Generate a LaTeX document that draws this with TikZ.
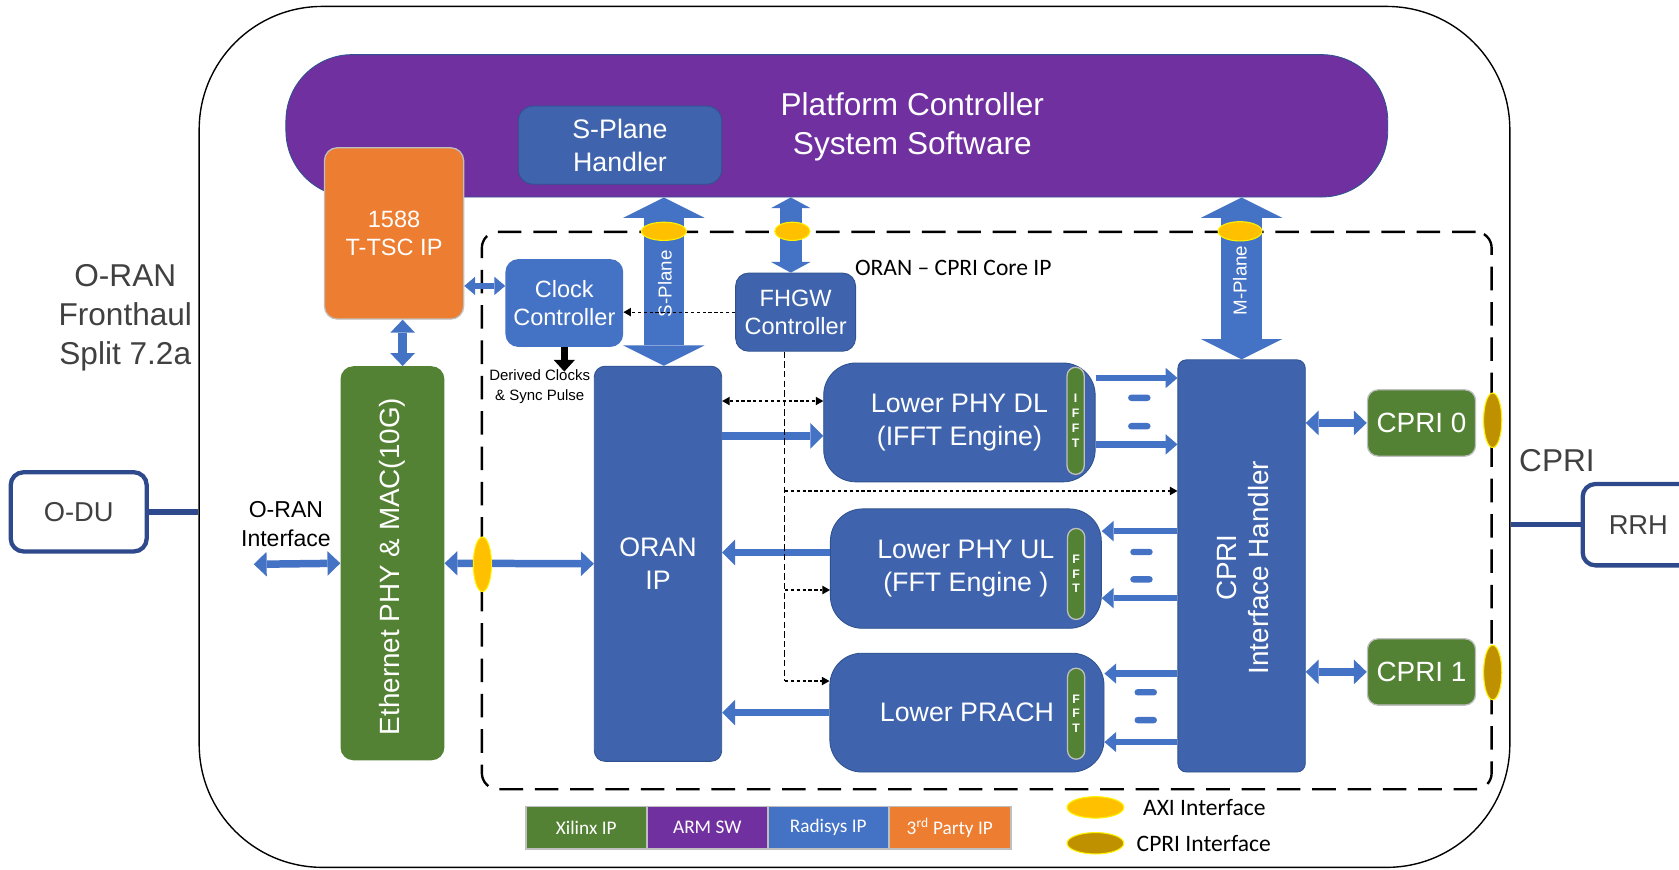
\documentclass[tikz,border=0pt]{standalone}
\usepackage{fontspec}
\setmainfont{Liberation Sans}
\newfontfamily\calibri{Carlito}
\usetikzlibrary{arrows.meta,shapes.geometric}

\definecolor{armpurple}{HTML}{7030A0}
\definecolor{xilgreen}{HTML}{548235}
\definecolor{radblue}{HTML}{4472C4}
\definecolor{coreblue}{HTML}{3F64AD}
\definecolor{coreedge}{HTML}{2F528F}
\definecolor{partyorange}{HTML}{ED7D31}
\definecolor{axiyellow}{HTML}{FFC000}
\definecolor{cprigold}{HTML}{BF9000}
\definecolor{navyline}{HTML}{2F4A8C}
\definecolor{softgray}{HTML}{BFBFBF}
\definecolor{txtgray}{HTML}{404040}

\begin{document}
\begin{tikzpicture}[x=1pt,y=-1pt,
    f14/.style={font=\fontsize{14}{18}\selectfont},
    f21/.style={font=\fontsize{21.5}{27}\selectfont},
    f22/.style={font=\fontsize{22}{26.5}\selectfont},
    f24/.style={font=\fontsize{25}{31}\selectfont},
    f26/.style={font=\fontsize{26}{30}\selectfont},
    f28/.style={font=\fontsize{29.5}{36.5}\selectfont},
    box/.style={inner sep=0pt, align=center, text=white, rounded corners=12pt},
    coreblk/.style={box, fill=coreblue, draw=coreedge, line width=0.8pt},
    endbox/.style={draw=navyline, line width=4pt, rounded corners=12pt, font=\fontsize{25.5}{30}\selectfont, text=txtgray, inner sep=0pt},
    link/.style={draw=navyline, line width=5pt},
    fftbar/.style={fill=xilgreen, draw=softgray, line width=1.2pt, rounded corners=8pt, minimum width=16pt,
      inner sep=0pt, align=center, text=white, font=\bfseries\fontsize{11.5}{13.8}\selectfont},
    tick/.style={fill=radblue, rounded corners=3pt, minimum width=21pt, minimum height=6pt, inner sep=0pt},
    axi/.style={ellipse, fill=axiyellow, draw=yellow, line width=1pt, inner sep=0pt},
    cprilink/.style={ellipse, fill=cprigold, draw=yellow, line width=1pt, inner sep=0pt},
    legbox/.style={fill=#1, draw=softgray, line width=1.5pt, minimum width=113pt, minimum height=39.5pt,
      inner sep=0pt, text=white, font=\calibri\fontsize{18}{21}\selectfont},
    bigarr/.style={draw=radblue, line width=38pt,
      arrows={Triangle[width=76pt,length=19pt,line width=0pt]-Triangle[width=76pt,length=19pt,line width=0pt]}},
    midarr/.style={draw=radblue, line width=21pt,
      arrows={Triangle[width=37pt,length=10pt,line width=0pt]-Triangle[width=37pt,length=10pt,line width=0pt]}},
    medarr/.style={draw=radblue, line width=7pt,
      arrows={Triangle[width=23pt,length=12pt,line width=0pt]-Triangle[width=23pt,length=12pt,line width=0pt]}},
    onearr/.style={draw=radblue, line width=7pt, arrows={-Triangle[width=24pt,length=12pt,line width=0pt]}},
    lanearr/.style={draw=radblue, line width=6pt, arrows={-Triangle[width=19pt,length=11pt,line width=0pt]}},
    tinyarr/.style={draw=radblue, line width=6pt,
      arrows={Triangle[width=17pt,length=10pt,line width=0pt]-Triangle[width=17pt,length=10pt,line width=0pt]}},
    blkarr/.style={draw=black, line width=6pt, arrows={-Triangle[width=20pt,length=11pt,line width=0pt]}},
    ctrl/.style={draw=black, line width=1.1pt, dash pattern=on 3pt off 2.5pt,
      arrows={-Triangle[width=8pt,length=7pt,line width=0pt]}},
    ctrlboth/.style={ctrl, arrows={Triangle[width=8pt,length=7pt,line width=0pt]-Triangle[width=8pt,length=7pt,line width=0pt]}},
    fhgwline/.style={draw=black, line width=1pt, dash pattern=on 6pt off 3pt}
  ]
\useasboundingbox (0,0) rectangle (1568,812);

% Board outline, O-DU and RRH
\node[draw=black, line width=1.3pt, rounded corners=115pt, minimum width=1224pt, minimum height=804pt, inner sep=0pt] (board) at (798,408) {};
\node[endbox, minimum width=127pt, minimum height=74pt] (odu) at (73.5,478) {O-DU};
\node[endbox, minimum width=104pt, minimum height=76pt] (rrh) at (1530,490) {RRH};
\draw[link] (odu.east) -- (odu.east -| board.west);
\draw[link] (board.east |- rrh.west) -- (rrh.west);

% Outside labels
\node[f28, text=txtgray, align=center] (fronthaul) at (117,297) {O-RAN\\Fronthaul\\Split 7.2a};
\node[f28, text=txtgray] (cprilbl) at (1454,430) {CPRI};

% Platform controller band
\node[fill=armpurple, draw=coreedge, line width=0.8pt, rounded corners=62pt, minimum width=1029pt, minimum height=133pt, inner sep=0pt] (band) at (781.5,117.5) {};
\node[f28, text=white, align=center] (pcss) at (852,118.5) {Platform Controller\\System Software};
\node[coreblk, f24, minimum width=190pt, minimum height=73pt, rounded corners=14pt] (shdl) at (579,135.5) {S-Plane\\Handler};

% 1588 block
\node[box, fill=partyorange, draw=softgray, line width=1.2pt, f22, minimum width=130pt, minimum height=160pt] (tsc) at (368,218) {1588\\T-TSC IP};

% ORAN - CPRI core
\node[draw=black, line width=2.2pt, dash pattern=on 22pt off 11pt, rounded corners=15pt, minimum width=943pt, minimum height=520.5pt, inner sep=0pt] (core) at (921.5,476.75) {};
\node[anchor=west, font=\calibri\fontsize{22}{26}\selectfont] (corelbl) at (795,250) {ORAN – CPRI Core IP};

% Ethernet block
\node[box, fill=xilgreen, minimum width=97pt, minimum height=368pt] (eth) at (366.5,526) {};
\node[f26, text=white, rotate=90] (ethlbl) at (366,529) {Ethernet PHY \& MAC(10G)};

% Controllers
\node[box, fill=radblue, f22, minimum width=110pt, minimum height=82pt] (clk) at (527,283) {Clock\\Controller};
\node[coreblk, f22, minimum width=112pt, minimum height=73pt] (fhgw) at (743,291.5) {FHGW\\Controller};

% ORAN IP and lower PHY blocks
\node[coreblk, f24, minimum width=119pt, minimum height=369pt, rounded corners=10pt] (oran) at (614.5,526.5) {ORAN\\IP};
\node[coreblk, f24, minimum width=253.5pt, minimum height=111pt, rounded corners=30pt] (dl) at (896,394.5) {Lower PHY DL\\(IFFT Engine)};
\node[coreblk, f24, minimum width=253pt, minimum height=111.5pt, rounded corners=30pt] (ul) at (902,531) {Lower PHY UL\\(FFT Engine )};
\node[coreblk, f24, minimum width=256pt, minimum height=111pt, rounded corners=30pt] (prach) at (903,665.5) {Lower PRACH};
\node[fftbar, minimum height=100pt] (dlbar) at (1004.5,393) {I\\F\\F\\T};
\node[fftbar, minimum height=85pt] (ulbar) at (1005,536) {F\\F\\T};
\node[fftbar, minimum height=85pt] (prbar) at (1005,666.5) {F\\F\\T};

% CPRI side
\node[coreblk, minimum width=119pt, minimum height=385pt, rounded corners=8pt] (cprih) at (1159.5,528.5) {};
\node[f26, text=white, rotate=90, align=center] (cprihlbl) at (1161,530) {CPRI\\Interface Handler};
\node[box, fill=xilgreen, draw=softgray, line width=1.2pt, font=\fontsize{26}{30}\selectfont, rounded corners=10pt, minimum width=101pt, minimum height=62pt] (cpri0) at (1327.5,395) {CPRI 0};
\node[box, fill=xilgreen, draw=softgray, line width=1.2pt, font=\fontsize{26}{30}\selectfont, rounded corners=10pt, minimum width=101pt, minimum height=62pt] (cpri1) at (1327.5,627.5) {CPRI 1};

% Plane arrows
\draw[bigarr] ([xshift=5.5pt]oran.north |- band.south) -- ([xshift=5.5pt]oran.north);
\draw[bigarr] (cprih.north |- band.south) -- (cprih.north);
\draw[midarr] ([xshift=-4.5pt]fhgw.north |- band.south) -- ([xshift=-4.5pt]fhgw.north);
\node[font=\fontsize{17.5}{20}\selectfont, text=white, rotate=90] (splbl) at (621,265) {S-Plane};
\node[font=\fontsize{17.5}{20}\selectfont, text=white, rotate=90] (mplbl) at (1158,262) {M-Plane};

% Timing arrows
\draw[medarr, line width=8.5pt] ([xshift=8pt]tsc.south) -- ([xshift=8pt]tsc.south |- eth.north);
\draw[tinyarr] ([yshift=16pt]clk.west -| tsc.east) -- ([yshift=16pt]clk.west);
\coordinate (dclk) at (527,347);
\draw[blkarr] (clk.south) -- (dclk);
\node[f14, align=center] (derived) at (504,361) {Derived Clocks\\\& Sync Pulse};

% Fronthaul data path
\coordinate (oranif) at (237,527);
\draw[medarr] (oranif) -- (eth.west);
\node[f21, align=center] (oranlbl) at (267,489.5) {O-RAN\\Interface};
\draw[medarr] (eth.east) -- (oran.west);
\draw[onearr] ([yshift=-12.5pt]dl.west -| oran.east) -- ([yshift=-12.5pt]dl.west);
\draw[onearr] ([yshift=15pt]ul.west) -- ([yshift=15pt]ul.west -| oran.east);
\draw[onearr] (prach.west) -- (prach.west -| oran.east);

% Lanes to and from the CPRI handler
\foreach \dy in {41.5,-20.5}
  \draw[lanearr] ([yshift=\dy pt]dl.east) -- ([yshift=\dy pt]dl.east -| cprih.west);
\foreach \dy in {35,-27.6}
  \draw[lanearr] ([yshift=\dy pt]ul.east -| cprih.west) -- ([yshift=\dy pt]ul.east);
\foreach \dy in {36.5,-27.5}
  \draw[lanearr] ([yshift=\dy pt]prach.east -| cprih.west) -- ([yshift=\dy pt]prach.east);
\foreach \x/\y [count=\i] in {1064/371.5,1064/398,1066/515.5,1066/541,1070/646.5,1070/672.5}
  \node[tick] (tick\i) at (\x,\y) {};
\draw[medarr, line width=7.5pt] (cprih.east |- cpri0.west) -- (cpri0.west);
\draw[medarr, line width=7.5pt] (cprih.east |- cpri1.west) -- (cpri1.west);

% FHGW control lines
\draw[ctrl] (fhgw.west) -- (fhgw.west -| clk.east);
\coordinate (fdrop) at ([xshift=-10pt]fhgw.south);
\draw[fhgwline] (fdrop) |- ([yshift=29.5pt]prach.west -| fdrop);
\draw[ctrl] ([yshift=29.5pt]prach.west -| fdrop) -- ([yshift=29.5pt]prach.west);
\draw[ctrl] ([yshift=-20pt]ul.west -| fdrop) -- ([yshift=-20pt]ul.west);
\draw[ctrl] ([yshift=70pt]cprih.west -| fdrop) -- ([yshift=70pt]cprih.west);
\draw[ctrlboth] ([yshift=20pt]dl.west -| oran.east) -- ([yshift=20pt]dl.west);

% Interface marks
\node[axi, minimum width=42pt, minimum height=17pt] (axis) at (620,216) {};
\node[axi, minimum width=33pt, minimum height=17pt] (axif) at (740,216) {};
\node[axi, minimum width=41pt, minimum height=18pt] (axim) at (1158,216) {};
\node[axi, minimum width=17pt, minimum height=51pt] (axie) at (450.5,527) {};
\node[cprilink, minimum width=17pt, minimum height=51pt] (cpe0) at (1394,392.5) {};
\node[cprilink, minimum width=17pt, minimum height=51pt] (cpe1) at (1394,628) {};

% Legend
\node[legbox=xilgreen] (lgx) at (547.5,773) {Xilinx IP};
\node[legbox=armpurple] (lga) at (660.5,773) {ARM SW};
\node[legbox=radblue] (lgr) at (773.5,773) {Radisys IP};
\node[legbox=partyorange, minimum width=114pt] (lgt) at (887,773) {3\textsuperscript{rd} Party IP};
\node[axi, minimum width=53pt, minimum height=20pt] (lgaxi) at (1023,754) {};
\node[cprilink, minimum width=53pt, minimum height=20pt] (lgcpri) at (1023,787.5) {};
\node[anchor=west, font=\calibri\fontsize{22}{26}\selectfont] (lgaxit) at (1064,754) {AXI Interface};
\node[anchor=west, font=\calibri\fontsize{22}{26}\selectfont] (lgcprit) at (1058,787.5) {CPRI Interface};
\end{tikzpicture}
\end{document}
